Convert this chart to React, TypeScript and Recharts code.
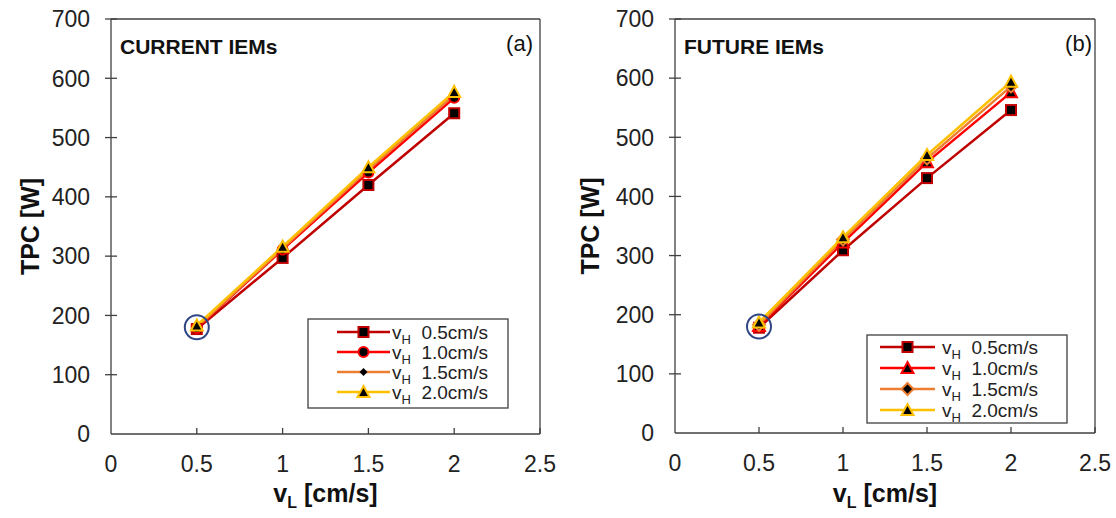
import React from 'react';
import {
  LineChart,
  Line,
  XAxis,
  YAxis,
  ReferenceLine,
  ReferenceDot,
  Customized,
} from 'recharts';

const FONT = '"Liberation Sans", Arial, Helvetica, sans-serif';
const AXIS = '#404040';

const vL = [0.5, 1, 1.5, 2];
const xTicks = [0, 0.5, 1, 1.5, 2, 2.5];
const yTicks = [0, 100, 200, 300, 400, 500, 600, 700];
const vHLabels = ['0.5cm/s', '1.0cm/s', '1.5cm/s', '2.0cm/s'];

// (a) current IEMs
const currentH05 = [177, 297, 420, 541];
const currentH10 = [179, 311, 441, 567];
const currentH15 = [180, 313, 446, 572];
const currentH20 = [183, 316, 450, 577];

// (b) future IEMs
const futureH05 = [178, 309, 431, 546];
const futureH10 = [181, 322, 458, 576];
const futureH15 = [183, 327, 464, 586];
const futureH20 = [187, 331, 470, 594];

type Shape = 'square' | 'circle' | 'diamond' | 'diamondBig' | 'triangle';

interface Series {
  key: string;
  label: string;
  color: string;
  shape: Shape;
}

function marker(shape: Shape, color: string, cx: number, cy: number, key?: string) {
  if (shape === 'square')
    return <rect key={key} x={cx - 5} y={cy - 5} width={10} height={10} fill="#000" stroke={color} strokeWidth={2} />;
  if (shape === 'circle')
    return <circle key={key} cx={cx} cy={cy} r={5} fill="#000" stroke={color} strokeWidth={2} />;
  if (shape === 'diamond')
    return <polygon key={key} points={`${cx},${cy - 4} ${cx + 4},${cy} ${cx},${cy + 4} ${cx - 4},${cy}`} fill="#000" />;
  if (shape === 'diamondBig')
    return (
      <polygon key={key} points={`${cx},${cy - 6} ${cx + 6},${cy} ${cx},${cy + 6} ${cx - 6},${cy}`} fill="#000" stroke={color} strokeWidth={2} />
    );
  return (
    <polygon key={key} points={`${cx},${cy - 6} ${cx + 6},${cy + 5} ${cx - 6},${cy + 5}`} fill="#000" stroke={color} strokeWidth={2} />
  );
}

const seriesA: Series[] = [
  { key: 'h05', label: vHLabels[0], color: '#C00000', shape: 'square' },
  { key: 'h10', label: vHLabels[1], color: '#FF0000', shape: 'circle' },
  { key: 'h15', label: vHLabels[2], color: '#ED7D31', shape: 'diamond' },
  { key: 'h20', label: vHLabels[3], color: '#FFC000', shape: 'triangle' },
];

const seriesB: Series[] = [
  { key: 'h05', label: vHLabels[0], color: '#C00000', shape: 'square' },
  { key: 'h10', label: vHLabels[1], color: '#FF0000', shape: 'triangle' },
  { key: 'h15', label: vHLabels[2], color: '#ED7D31', shape: 'diamondBig' },
  { key: 'h20', label: vHLabels[3], color: '#FFC000', shape: 'triangle' },
];

const dataA = vL.map((x, i) => ({ x, h05: currentH05[i], h10: currentH10[i], h15: currentH15[i], h20: currentH20[i] }));
const dataB = vL.map((x, i) => ({ x, h05: futureH05[i], h10: futureH10[i], h15: futureH15[i], h20: futureH20[i] }));

interface PanelProps {
  data: any[];
  series: Series[];
  width: number;
  yAxisWidth: number;
  rightMargin: number;
  xAxisHeight: number;
  title: string;
  tag: string;
  tagX: number;
  legendLeft: number;
  legendTop: number;
  legendRows: number[];
  legendLineX: [number, number];
  legendTextX: number;
  legendHeight: number;
}

function Panel(p: PanelProps) {
  const H = 518;
  const top = 19;
  const plotLeft = p.yAxisWidth;
  const plotBottom = H - p.xAxisHeight;
  const plotMidY = (top + plotBottom) / 2;
  const plotMidX = (plotLeft + p.width - p.rightMargin) / 2;

  const yTick = (props: any) => {
    const { y, payload } = props;
    return (
      <g>
        {payload.value !== 0 && <line x1={plotLeft - 6} x2={plotLeft + 6} y1={y} y2={y} stroke={AXIS} strokeWidth={1.3} />}
        <text x={plotLeft - 21} y={y} dy="0.36em" textAnchor="end" fontSize={23} fontFamily={FONT} fill="#222">
          {payload.value}
        </text>
      </g>
    );
  };

  const xTick = (props: any) => {
    const { x, payload } = props;
    return (
      <g>
        {payload.value !== 0 && <line x1={x} x2={x} y1={plotBottom} y2={plotBottom - 6} stroke={AXIS} strokeWidth={1.3} />}
        <text x={x} y={plotBottom + 38} textAnchor="middle" fontSize={23} fontFamily={FONT} fill="#222">
          {payload.value}
        </text>
      </g>
    );
  };

  const overlay = () => (
    <g fontFamily={FONT} fill="#111">
      <text x={plotLeft + 9} y={54} fontSize={21} fontWeight="bold">
        {p.title}
      </text>
      <text x={p.tagX} y={51} fontSize={22} textAnchor="end">
        {p.tag}
      </text>
      <text
        x={30}
        y={plotMidY}
        transform={`rotate(-90 30 ${plotMidY})`}
        textAnchor="middle"
        dy="0.36em"
        fontSize={25}
        fontWeight="bold"
      >
        TPC [W]
      </text>
      <text x={plotMidX} y={502} textAnchor="middle" fontSize={25} fontWeight="bold">
        <tspan>v</tspan>
        <tspan dy={6} fontSize={16}>L</tspan>
        <tspan dy={-6}> [cm/s]</tspan>
      </text>
      <g transform={`translate(${p.legendLeft},${p.legendTop})`}>
        <rect x={0} y={0} width={200} height={p.legendHeight} fill="#fff" stroke={AXIS} strokeWidth={1.3} />
        {p.series.map((s, i) => (
          <g key={s.key}>
            <line x1={p.legendLineX[0]} x2={p.legendLineX[1]} y1={p.legendRows[i]} y2={p.legendRows[i]} stroke={s.color} strokeWidth={2.5} />
            {marker(s.shape, s.color, (p.legendLineX[0] + p.legendLineX[1]) / 2, p.legendRows[i])}
            <text x={p.legendTextX} y={p.legendRows[i]} dy="0.36em" fontSize={19} fill="#222">
              <tspan>v</tspan>
              <tspan dy={5} fontSize={13}>H</tspan>
              <tspan dy={-5}>{'\u00a0\u00a0' + s.label}</tspan>
            </text>
          </g>
        ))}
      </g>
    </g>
  );

  return (
    <LineChart width={p.width} height={H} data={p.data} margin={{ top, right: p.rightMargin, left: 0, bottom: 0 }}>
      <XAxis
        dataKey="x"
        type="number"
        domain={[0, 2.5]}
        ticks={xTicks}
        interval={0}
        height={p.xAxisHeight}
        tick={xTick}
        tickLine={false}
        axisLine={{ stroke: AXIS, strokeWidth: 1.3 }}
      />
      <YAxis
        type="number"
        domain={[0, 700]}
        ticks={yTicks}
        interval={0}
        width={p.yAxisWidth}
        tick={yTick}
        tickLine={false}
        axisLine={{ stroke: AXIS, strokeWidth: 1.3 }}
      />
      <ReferenceLine y={700} stroke={AXIS} strokeWidth={1.3} />
      <ReferenceLine x={2.5} stroke={AXIS} strokeWidth={1.3} />
      {p.series.map((s) => (
        <Line
          key={s.key}
          type="linear"
          dataKey={s.key}
          name={s.label}
          stroke={s.color}
          strokeWidth={2.5}
          isAnimationActive={false}
          dot={(d: any) => marker(s.shape, s.color, d.cx, d.cy, `${s.key}-${d.index}`)}
          activeDot={false}
        />
      ))}
      <ReferenceDot x={0.5} y={180} r={12} fill="none" stroke="#2F4585" strokeWidth={2} />
      <Customized component={overlay} />
    </LineChart>
  );
}

export default function App() {
  return (
    <div style={{ position: 'absolute', left: 0, top: 0, width: 1116, height: 518, background: '#fff' }}>
      <div style={{ position: 'absolute', left: 0, top: 0 }}>
        <Panel
          data={dataA}
          series={seriesA}
          width={560}
          yAxisWidth={111}
          rightMargin={20}
          xAxisHeight={84}
          title="CURRENT IEMs"
          tag="(a)"
          tagX={533}
          legendLeft={308}
          legendTop={319}
          legendRows={[13, 33, 53, 73]}
          legendLineX={[29, 82]}
          legendTextX={84}
          legendHeight={89}
        />
      </div>
      <div style={{ position: 'absolute', left: 560, top: 0 }}>
        <Panel
          data={dataB}
          series={seriesB}
          width={556}
          yAxisWidth={115}
          rightMargin={21}
          xAxisHeight={85}
          title="FUTURE IEMs"
          tag="(b)"
          tagX={532}
          legendLeft={307}
          legendTop={335}
          legendRows={[12, 33, 54, 75]}
          legendLineX={[13, 68]}
          legendTextX={75}
          legendHeight={88}
        />
      </div>
    </div>
  );
}
